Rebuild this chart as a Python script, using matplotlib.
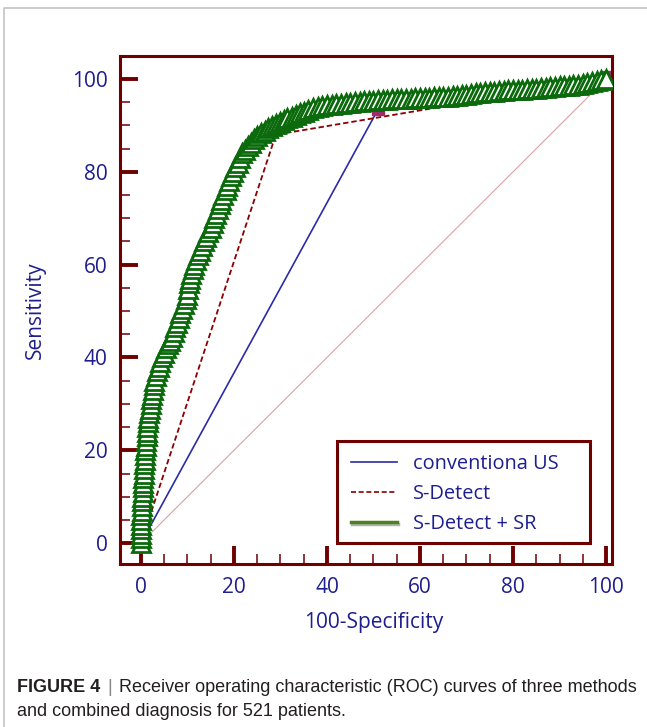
import matplotlib
matplotlib.use('Agg')
import matplotlib.pyplot as plt
import matplotlib.patheffects as pe
from matplotlib.lines import Line2D
from matplotlib.patches import Rectangle
from matplotlib.ticker import MultipleLocator

# ROC points (100-Specificity, Sensitivity)
fpr_us = [0, 51, 100]
tpr_us = [0, 93.5, 100]

fpr_sd = [0, 29, 100]
tpr_sd = [0, 88, 100]

fpr_sr = [0, 0, 0, 0, 0, 0.1, 0.1, 0.2, 0.2, 0.3, 0.3, 0.4, 0.4, 0.5, 0.5, 0.6,
          0.6, 0.7, 0.8, 0.8, 0.9, 1.0, 1.1, 1.2, 1.3, 1.4, 1.5, 1.6, 1.8, 1.9,
          2.1, 2.2, 2.4, 2.5, 2.7, 2.9, 3.2, 3.5, 3.8, 4.1, 4.5,
          4.9, 5.3, 5.8, 6.2, 6.6, 7.0, 7.4, 7.8, 8.2, 8.5, 8.9, 9.2, 9.6, 9.9,
          10.2, 10.4, 10.6, 10.8, 11.1, 11.5, 11.9, 12.3, 12.8, 13.2, 13.6, 14.0,
          14.5, 15.0, 15.4, 15.8, 16.1, 16.5, 16.9, 17.3, 17.7, 18.2, 18.6, 19.0,
          19.4, 19.8, 20.3, 20.8, 21.3, 21.8, 22.4, 23.0, 23.6, 24.3, 25.0, 25.8,
          26.6, 27.4, 28.2, 29.0, 29.8, 30.7, 31.5, 32.4, 33.3, 34.2, 35.1, 36.0,
          37.0, 38.0, 39, 40, 41, 42,
          43, 44, 45, 46, 47, 48, 49, 50, 51, 52, 53, 54, 55, 56, 57, 58, 59, 60,
          61, 62, 63, 64, 65, 66, 67, 68, 69, 70, 71, 72, 73, 74, 75, 76, 77, 78,
          79, 80, 81, 82, 83, 84, 85, 86, 87, 88, 89, 90, 91, 92, 93, 94, 95, 96,
          97, 98, 99, 100]
tpr_sr = [0, 1, 2, 3, 4, 5, 6, 7, 8, 9, 10, 11, 12, 13, 14, 15,
          16, 17, 18, 19, 20, 21, 22, 23, 24, 25, 26, 27, 28, 29,
          30, 31, 32, 33, 34, 35, 36, 37, 38, 39, 40,
          41, 42, 42.8, 43.5, 44.5, 45.5, 46.5, 47.5, 48.5, 49.5, 50.5, 51.5, 52.5, 53.5,
          54.8, 56, 57, 58, 59, 60, 61, 62, 63, 64, 65, 66,
          67, 68, 69, 70, 71, 72, 73, 74, 75, 76, 77, 78,
          79, 80, 81, 82, 83, 84, 84.8, 85.5, 86.3, 87, 87.7, 88.3,
          88.9, 89.5, 89.9, 90.3, 90.7, 91.1, 91.5, 91.8, 92.2, 92.6, 93.0, 93.3,
          93.7, 94, 94.2, 94.3, 94.5, 94.6,
          94.7, 94.8, 94.9, 95, 95.1, 95.2, 95.25, 95.3, 95.4, 95.5, 95.55, 95.6,
          95.65, 95.7, 95.75, 95.8, 95.85, 95.9,
          95.95, 96, 96.05, 96.1, 96.15, 96.2, 96.3, 96.4, 96.5, 96.6, 96.75, 96.9,
          97, 97.1, 97.2, 97.3, 97.4, 97.5,
          97.55, 97.6, 97.65, 97.7, 97.75, 97.8, 97.9, 98, 98.1, 98.2, 98.3, 98.4,
          98.5, 98.6, 98.7, 98.8, 99, 99.2,
          99.4, 99.6, 99.8, 100]

labels = ['conventiona US', 'S-Detect', 'S-Detect + SR']

navy = '#1e1e8c'
maroon = '#6e0000'
green = '#0b6a0b'

fig = plt.figure(figsize=(6.47, 7.27), dpi=100)
ax = fig.add_axes([0.1855, 0.2242, 0.7605, 0.699])

ax.plot([0, 100], [0, 100], color='#d9a3a3', lw=0.8, zorder=1)
ax.plot(fpr_us, tpr_us, color='#2b2ba8', lw=1.2, zorder=2)
ax.plot(fpr_sd, tpr_sd, color='#8b0000', lw=1.3, ls=(0, (3, 1.6)), zorder=2)
ax.plot(fpr_us, tpr_us, ls='none', marker='s', ms=8, color='#9b2d6b',
        markevery=[1], zorder=2)
ax.plot([100.6], [100.4], ls='none', marker='s', ms=8, color='#9b2d6b', zorder=2)
ax.plot([100.9], [99.6], ls='none', marker='^', ms=6, color='#f0c000', zorder=2)
ax.plot(fpr_sr, tpr_sr, color=green, lw=1.5, marker='^', ms=13,
        mfc='white', mec=green, mew=2.0, zorder=3)

ax.set_xlim(-4.5, 101.3)
ax.set_ylim(-4.5, 105)
ax.xaxis.set_major_locator(MultipleLocator(20))
ax.xaxis.set_minor_locator(MultipleLocator(5))
ax.yaxis.set_major_locator(MultipleLocator(20))
ax.yaxis.set_minor_locator(MultipleLocator(5))

for s in ax.spines.values():
    s.set_color(maroon)
    s.set_linewidth(2.2)

ax.tick_params(which='major', direction='in', length=13, width=2.8, color=maroon,
               labelsize=15, labelcolor=navy, pad=9)
ax.tick_params(which='minor', direction='in', length=7, width=1.1, color=maroon)
for lab in ax.get_xticklabels() + ax.get_yticklabels():
    lab.set_family('Open Sans')

ax.set_xlabel('100-Specificity', fontsize=15, color=navy, family='Open Sans')
ax.set_ylabel('Sensitivity', fontsize=15, color=navy, family='Open Sans')
ax.xaxis.set_label_coords(0.516, -0.094)
ax.yaxis.set_label_coords(-0.15, 0.5)

# legend box
ax.add_patch(Rectangle((0.441, 0.041), 0.514, 0.201, transform=ax.transAxes,
                       facecolor='white', edgecolor=maroon, lw=2.2, zorder=6))
h_sr = Line2D([], [], color='#4f7f1f', lw=2.5,
              path_effects=[pe.SimpleLineShadow(offset=(0.5, -1.2), alpha=0.3), pe.Normal()])
handles = [Line2D([], [], color='#2b2ba8', lw=1.2),
           Line2D([], [], color='#8b0000', lw=1.2, ls=(0, (3, 1.6))),
           h_sr]
leg = ax.legend(handles, labels, loc='upper left', bbox_to_anchor=(0.4695, 0.2165),
                frameon=False, borderaxespad=0, borderpad=0, handlelength=2.3,
                handletextpad=0.8, labelspacing=0.5,
                prop={'family': 'Open Sans', 'size': 14.4})
leg.set_zorder(7)
for t in leg.get_texts():
    t.set_color(navy)

# outer gray frame
fig.add_artist(Line2D([4 / 647, 4 / 647, 1], [0, 1 - 8 / 727, 1 - 8 / 727],
                      transform=fig.transFigure, color='#c4c4c4', lw=1.2))

# caption
cap_font = 'Liberation Sans'
cap_size = 13
r = fig.canvas.get_renderer()
t1 = fig.text(17 / 647, 1 - 688 / 727, 'FIGURE 4', fontsize=cap_size, weight='bold',
              color='#231f20', family=cap_font, va='center')
bb = t1.get_window_extent(r)
t2 = fig.text(bb.x1 / 647 + 0.011, 1 - 688 / 727, '|', fontsize=cap_size,
              color='#888888', family=cap_font, va='center')
bb2 = t2.get_window_extent(r)
fig.text(bb2.x1 / 647 + 0.011, 1 - 688 / 727,
         'Receiver operating characteristic (ROC) curves of three methods',
         fontsize=cap_size, color='#231f20', family=cap_font, va='center')
fig.text(17 / 647, 1 - 712 / 727, 'and combined diagnosis for 521 patients.',
         fontsize=cap_size, color='#231f20', family=cap_font, va='center')

plt.savefig('out.png', dpi=100)
